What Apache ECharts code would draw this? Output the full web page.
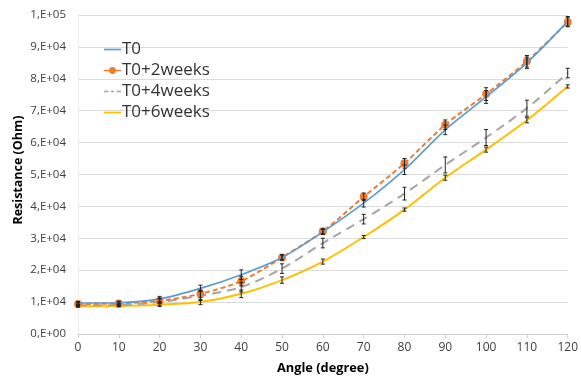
<!DOCTYPE html>
<html>
<head>
<meta charset="utf-8">
<script src="https://cdn.jsdelivr.net/npm/echarts@6/dist/echarts.min.js"></script>
<style>
  html, body { margin: 0; padding: 0; background: #fff; }
  #chart { width: 581px; height: 380px; }
</style>
</head>
<body>
<div id="chart"></div>
<script>
// angle values (degree)
const angles = [0, 10, 20, 30, 40, 50, 60, 70, 80, 90, 100, 110, 120]
const seriesNames = ['T0', 'T0+2weeks', 'T0+4weeks', 'T0+6weeks']

// resistance (Ohm)
const t0 = [9700, 9800, 11000, 14300, 18600, 24000, 32000, 41000, 51500, 64000, 74300, 85000, 98000]
const t2w = [9400, 9600, 10400, 12600, 16600, 24000, 32200, 43000, 53500, 65600, 75200, 85500, 97800]
const t4w = [9000, 9100, 10000, 12000, 14700, 20500, 28500, 36000, 44000, 53000, 61600, 70800, 81800]
const t6w = [8700, 8800, 9200, 10000, 12600, 16900, 22700, 30400, 39000, 49000, 57800, 67000, 77600]

// error bar half widths
const t0Err = [500, 500, 800, 1000, 1500, 800, 800, 1200, 1500, 1500, 2000, 1800, 1500]
const t2wErr = [500, 500, 800, 1200, 1500, 800, 800, 1200, 1500, 1500, 2000, 1800, 1500]
const t4wErr = [400, 500, 1000, 1500, 1500, 1500, 1500, 1500, 2000, 2500, 2500, 2500, 1500]
const t6wErr = [300, 300, 600, 800, 1200, 1000, 800, 500, 500, 800, 800, 800, 500]

const colors = ['#5b9bd5', '#ed7d31', '#a5a5a5', '#ffc000']

function sciLabel(v) {
  if (v === 0) return '0,E+00'
  const e = Math.floor(Math.log10(v) + 1e-9)
  const m = Math.round(v / Math.pow(10, e))
  return m + ',E+' + (e < 10 ? '0' + e : e)
}

function pairs(ys) {
  return angles.map((a, i) => [a, ys[i]])
}

function errData(ys, errs) {
  return angles.map((a, i) => [a, ys[i] - errs[i], ys[i] + errs[i]])
}

function renderErr(params, api) {
  const lo = api.coord([api.value(0), api.value(1)])
  const hi = api.coord([api.value(0), api.value(2)])
  const cap = 2
  const style = { stroke: '#222', lineWidth: 1 }
  return {
    type: 'group',
    children: [
      { type: 'line', shape: { x1: lo[0], y1: lo[1], x2: hi[0], y2: hi[1] }, style },
      { type: 'line', shape: { x1: lo[0] - cap, y1: lo[1], x2: lo[0] + cap, y2: lo[1] }, style },
      { type: 'line', shape: { x1: hi[0] - cap, y1: hi[1], x2: hi[0] + cap, y2: hi[1] }, style }
    ]
  }
}

const chart = echarts.init(document.getElementById('chart'))

const lineStyles = [
  { type: 'solid', width: 1.6 },
  { type: [5, 3], width: 2 },
  { type: [9, 6], width: 2 },
  { type: 'solid', width: 2 }
]
// legend icons: plain line, line with dot, dashed line, plain line
const legendIcons = [
  'path://M0,3.2H16V4.8H0Z',
  'path://M0,3.2H16V4.8H0Z M8,0.8A3.2,3.2 0 1,1 8,7.2A3.2,3.2 0 1,1 8,0.8Z',
  'path://M0,3.2H4V4.8H0Z M6.5,3.2H9.5V4.8H6.5Z M12,3.2H16V4.8H12Z',
  'path://M0,3.2H16V4.8H0Z'
]
const allYs = [t0, t2w, t4w, t6w]
const allErrs = [t0Err, t2wErr, t4wErr, t6wErr]

const series = []
allYs.forEach((ys, i) => {
  series.push({
    name: seriesNames[i],
    type: 'line',
    smooth: 0.3,
    data: pairs(ys),
    symbol: i === 1 ? 'circle' : 'none',
    symbolSize: 8,
    showSymbol: i === 1,
    itemStyle: { color: colors[i] },
    lineStyle: Object.assign({ color: colors[i] }, lineStyles[i]),
    z: 4 - i
  })
})
allYs.forEach((ys, i) => {
  series.push({
    type: 'custom',
    renderItem: renderErr,
    data: errData(ys, allErrs[i]),
    encode: { x: 0, y: [1, 2] },
    silent: true,
    z: 10
  })
})

chart.setOption({
  animation: false,
  backgroundColor: '#fff',
  color: colors,
  grid: { left: 78, right: 9, top: 15, bottom: 40 },
  legend: {
    data: seriesNames.map((n, i) => ({ name: n, icon: legendIcons[i] })),
    orient: 'vertical',
    left: 99,
    top: 36,
    itemWidth: 17,
    itemHeight: 8,
    itemGap: 4,
    symbolKeepAspect: true,
    textStyle: { fontFamily: 'Open Sans', fontSize: 17, color: '#333', padding: [0, 0, 0, -4] }
  },
  graphic: [{
    type: 'text',
    x: 18,
    y: 170,
    rotation: Math.PI / 2,
    style: {
      text: 'Resistance (Ohm)',
      fontFamily: 'Open Sans',
      fontWeight: 'bold',
      fontSize: 12.5,
      fill: '#000',
      align: 'center',
      verticalAlign: 'middle'
    }
  }],
  xAxis: {
    type: 'value',
    min: 0,
    max: 120,
    interval: 10,
    name: 'Angle (degree)',
    nameLocation: 'middle',
    nameGap: 28,
    nameTextStyle: { fontFamily: 'Open Sans', fontWeight: 'bold', fontSize: 12.8, color: '#000' },
    axisLine: { lineStyle: { color: '#d0d0d0' } },
    axisTick: { show: true, length: 4, lineStyle: { color: '#d0d0d0' } },
    axisLabel: { fontFamily: 'Open Sans', fontSize: 12, color: '#404040', margin: 8 },
    splitLine: { show: false }
  },
  yAxis: {
    type: 'value',
    min: 0,
    max: 100000,
    interval: 10000,
    axisLine: { show: true, lineStyle: { color: '#eeeeee' } },
    axisTick: { show: false },
    axisLabel: { fontFamily: 'Open Sans', fontSize: 11.5, color: '#404040', margin: 12, formatter: sciLabel },
    splitLine: { lineStyle: { color: '#dcdcdc' } }
  },
  series
})
</script>
</body>
</html>
